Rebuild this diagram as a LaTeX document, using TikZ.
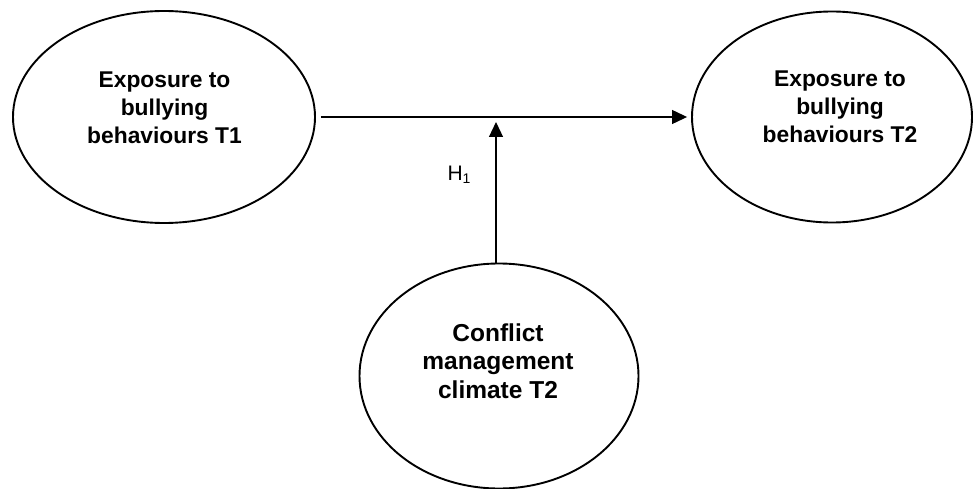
\documentclass[tikz,border=0pt]{standalone}
\usepackage{fontspec}
\setmainfont{Liberation Sans}
\usetikzlibrary{shapes.geometric,arrows.meta,calc}
\begin{document}
\begin{tikzpicture}[x=1pt,y=-1pt,
  ell/.style={draw=black,line width=1.9pt,ellipse,inner sep=0pt},
  txt/.style={align=center,font=\bfseries\fontsize{22.8}{28}\selectfont},
  txtb/.style={align=center,font=\bfseries\fontsize{24.5}{28.5}\selectfont},
  conn/.style={draw=black,line width=1.2pt,-{Triangle[length=15pt,width=14pt]}}]
\useasboundingbox (0,0) rectangle (973,489);
\node[ell,minimum width=302pt,minimum height=212pt] (a) at (164,117) {};
\node[ell,minimum width=280pt,minimum height=211pt] (b) at (832,117) {};
\node[ell,minimum width=279pt,minimum height=225pt] (c) at (499,376) {};
\node[txt] (ta) at (164.5,108) {Exposure to\\bullying\\behaviours T1};
\node[txt] (tb) at (840,107) {Exposure to\\bullying\\behaviours T2};
\node[txtb] (tc) at (498,361) {Conflict\\management\\climate T2};
\coordinate (m) at (496,122);
\draw[conn,shorten <=5pt,shorten >=4pt] (a.east) -- (b.west);
\draw[conn] (c.north -| m) -- (m);
\node[font=\fontsize{21}{25}\selectfont] (h) at (459,175) {H\raisebox{-3pt}{\fontsize{14}{16}\selectfont 1}};
\end{tikzpicture}
\end{document}
